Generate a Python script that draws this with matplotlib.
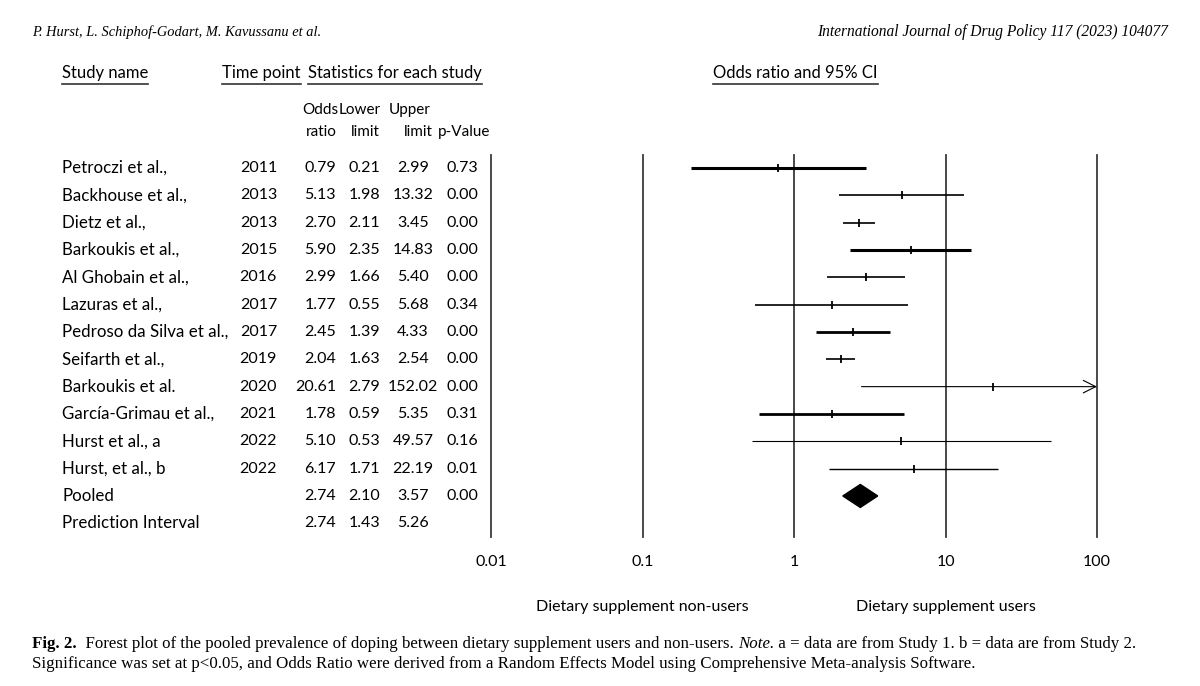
import matplotlib
matplotlib.use('Agg')
import matplotlib.pyplot as plt
from matplotlib.transforms import blended_transform_factory
from matplotlib.lines import Line2D
from matplotlib.patches import Polygon

# data
studies = ['Petroczi et al.,', 'Backhouse et al.,', 'Dietz et al.,', 'Barkoukis et al.,',
           'Al Ghobain et al.,', 'Lazuras et al.,', 'Pedroso da Silva et al.,', 'Seifarth et al.,',
           'Barkoukis et al.', 'García-Grimau et al.,', 'Hurst et al., a', 'Hurst, et al., b',
           'Pooled', 'Prediction Interval']
years = ['2011', '2013', '2013', '2015', '2016', '2017', '2017', '2019', '2020', '2021',
         '2022', '2022', '', '']
odds = [0.79, 5.13, 2.70, 5.90, 2.99, 1.77, 2.45, 2.04, 20.61, 1.78, 5.10, 6.17, 2.74, 2.74]
lower = [0.21, 1.98, 2.11, 2.35, 1.66, 0.55, 1.39, 1.63, 2.79, 0.59, 0.53, 1.71, 2.10, 1.43]
upper = [2.99, 13.32, 3.45, 14.83, 5.40, 5.68, 4.33, 2.54, 152.02, 5.35, 49.57, 22.19, 3.57, 5.26]
pvals = ['0.73', '0.00', '0.00', '0.00', '0.00', '0.34', '0.00', '0.00', '0.00', '0.31',
         '0.16', '0.01', '0.00', '']
xticks = [0.01, 0.1, 1, 10, 100]
xtick_labels = ['0.01', '0.1', '1', '10', '100']

# line thickness per study (as drawn in the figure)
row_lw = [2.2, 1.2, 1.2, 2.2, 1.2, 1.2, 2.0, 1.2, 0.8, 2.0, 0.8, 1.0]

W, H = 1200, 686
sans = ['Lato', 'DejaVu Sans']
serif = ['Liberation Serif', 'DejaVu Serif']
fs = 11.5

def fx(px):
    return px / W

def fy(py):
    return 1 - py / H

fig = plt.figure(figsize=(12, 6.86), dpi=100)
fig.patch.set_facecolor('white')

# forest axes: 0.01 line at px 491, 100 line at px 1097, rows from y=168 every 27.33 px
top_px, bot_px, row0, step = 155, 537, 168, 27.33
ax = fig.add_axes([fx(491), fy(bot_px), (1097 - 491) / W, (bot_px - top_px) / H])
ax.set_xscale('log')
ax.set_xlim(0.01, 100)
ax.set_ylim((bot_px - row0) / step, (top_px - row0) / step)
for s in ax.spines.values():
    s.set_visible(False)
ax.set_yticks([])
ax.set_xticks(xticks)
ax.set_xticklabels(xtick_labels, family=sans, fontsize=fs)
ax.tick_params(axis='x', length=0, pad=13)
ax.minorticks_off()
for t in xticks:
    ax.axvline(t, color='#3a3a3a', lw=1.3, clip_on=False)

for i in range(len(row_lw)):
    lo, hi, o = lower[i], upper[i], odds[i]
    if hi > 100:
        ax.annotate('', xy=(100, i), xytext=(lo, i),
                    arrowprops=dict(arrowstyle='->,head_length=0.9,head_width=0.45',
                                    lw=row_lw[i], color='black', shrinkA=0, shrinkB=0))
    else:
        ax.plot([lo, hi], [i, i], color='black', lw=row_lw[i], solid_capstyle='butt')
    ax.plot([o], [i], marker='|', ms=6, mew=1.3, color='black')

# pooled diamond
k = 12
h = 11.5 / step
ax.add_patch(Polygon([(lower[k], k), (odds[k], k - h), (upper[k], k), (odds[k], k + h)],
                     closed=True, facecolor='black', edgecolor='black'))

# table columns, y tied to the forest rows
tr = blended_transform_factory(fig.transFigure, ax.transData)
for i in range(len(studies)):
    kw = dict(transform=tr, va='center', family=sans, fontsize=fs)
    fig.text(fx(62), i, studies[i], ha='left', transform=tr, va='center', family=sans, fontsize=12.2)
    fig.text(fx(277), i, years[i], ha='right', **kw)
    fig.text(fx(336), i, f'{odds[i]:.2f}', ha='right', **kw)
    fig.text(fx(380), i, f'{lower[i]:.2f}', ha='right', **kw)
    fig.text(fx(413), i, f'{upper[i]:.2f}', ha='center', **kw)
    fig.text(fx(478), i, pvals[i], ha='right', **kw)

# headers
hdrs = [(62, 'Study name'), (222, 'Time point'), (308, 'Statistics for each study'),
        (713, 'Odds ratio and 95% CI')]
hdr_texts = [fig.text(fx(x), fy(73), s, ha='left', va='center', family=sans, fontsize=fs + 0.5)
             for x, s in hdrs]
sub = [(302, 'Odds'), (339, 'Lower'), (389, 'Upper')]
for x, s in sub:
    fig.text(fx(x), fy(110), s, ha='left', va='center', family=sans, fontsize=11)
sub2 = [(337, 'ratio'), (380, 'limit'), (433, 'limit'), (490, 'p-Value')]
for x, s in sub2:
    fig.text(fx(x), fy(132), s, ha='right', va='center', family=sans, fontsize=11)

# side labels under the axis
trx = blended_transform_factory(ax.transData, fig.transFigure)
fig.text(0.1, fy(607), 'Dietary supplement non-users', transform=trx, ha='center', va='center',
         family=sans, fontsize=fs)
fig.text(10, fy(607), 'Dietary supplement users', transform=trx, ha='center', va='center',
         family=sans, fontsize=fs)

# page header
fig.text(fx(32), fy(32), 'P. Hurst, L. Schiphof-Godart, M. Kavussanu et al.', ha='left',
         va='center', family=serif, style='italic', fontsize=10.4)
fig.text(fx(1168), fy(32), 'International Journal of Drug Policy 117 (2023) 104077', ha='right',
         va='center', family=serif, style='italic', fontsize=11.2)

fig.canvas.draw()
rend = fig.canvas.get_renderer()

# underline the column headers
for t in hdr_texts:
    bb = t.get_window_extent(rend)
    fig.add_artist(Line2D([bb.x0 / W, bb.x1 / W], [fy(84), fy(84)], color='#333333', lw=1.2))

# caption, drawn piece by piece
def run(x, y, parts):
    for s, kw in parts:
        t = fig.text(x / W, fy(y), s, ha='left', va='center', family=serif, fontsize=12.2, **kw)
        bb = t.get_window_extent(rend)
        x = x + bb.width

run(32, 644, [('Fig. 2.', dict(weight='bold')),
              ('  Forest plot of the pooled prevalence of doping between dietary supplement users and non-users. ', {}),
              ('Note.', dict(style='italic')),
              (' a = data are from Study 1. b = data are from Study 2.', {})])
run(32, 664, [('Significance was set at p<0.05, and Odds Ratio were derived from a Random Effects Model using Comprehensive Meta-analysis Software.', {})])

fig.savefig('out.png', dpi=100, facecolor='white')
